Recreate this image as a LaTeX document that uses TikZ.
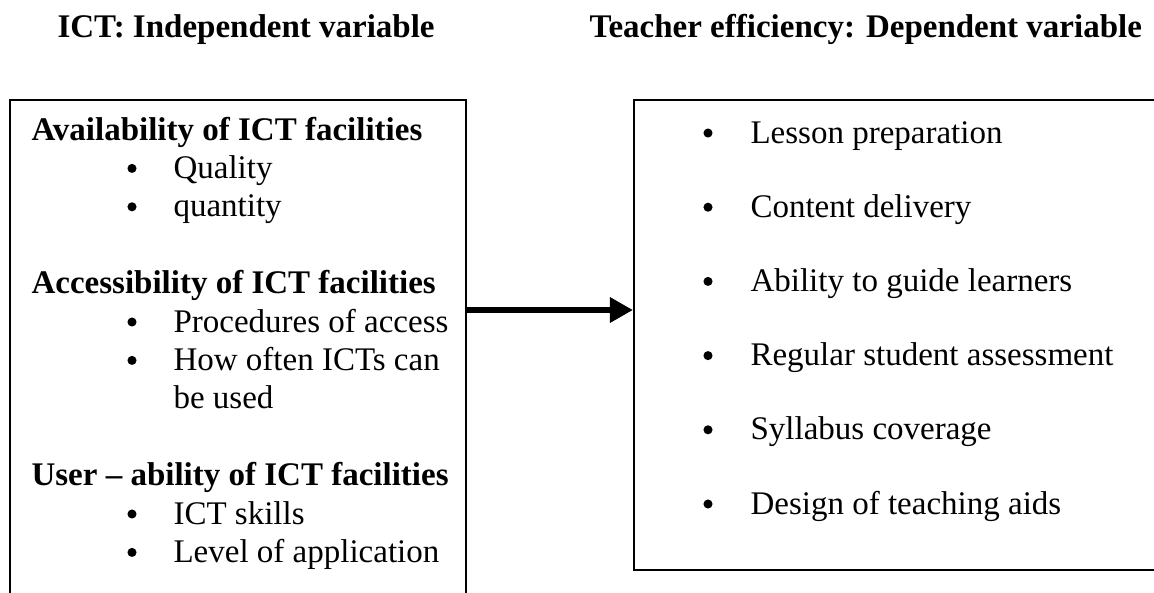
\documentclass[tikz,border=0pt]{standalone}
\usepackage{fontspec}
\setmainfont{Liberation Serif}
\usetikzlibrary{arrows.meta,positioning}
\tikzset{
    head/.style={anchor=base west, inner sep=0pt, font=\fontsize{12}{14}\selectfont\bfseries},
    item/.style={anchor=base west, inner sep=0pt, font=\fontsize{12}{14}\selectfont},
    dot/.style={circle, fill=black, inner sep=0pt, minimum size=3.3pt},
    box/.style={draw, line width=0.8pt, anchor=north west, inner sep=0pt},
    flow/.style={line width=2.5pt, -{Triangle[length=8.4pt, width=8.8pt]}}
}

\begin{document}
\begin{tikzpicture}[x=0.3636pt, y=-0.3636pt]
        \useasboundingbox (0,0) rectangle (1154,592);

        % Column titles
        \node[head] (ivtitle) at (57,37) {ICT: Independent variable};
        \node[head] (dvtitle) at (589,37) {Teacher efficiency: Dependent variable};

        % The two boxes (left one runs off the bottom, right one off the side)
        \node[box, minimum width=456*0.3636pt, minimum height=520*0.3636pt] (ivbox) at (9,99) {};
        \node[box, minimum width=540*0.3636pt, minimum height=470*0.3636pt] (dvbox) at (633,99) {};

        % Independent variable: group headings
        \node[head] (avail) at (31,140) {Availability of ICT facilities};
        \node[head] (access) at (31,293.6) {Accessibility of ICT facilities};
        \node[head] (usable) at (31,485.6) {User -- ability of ICT facilities};

        % Independent variable: bullet points
        \foreach \y/\txt [count=\i] in {178.4/Quality, 216.8/quantity, 332/Procedures of access,
                370.4/How often ICTs can, 524/ICT skills, 562.4/Level of application} {
            \node[dot] (ivdot\i) at (132,\y-10) {};
            \node[item] (ivitem\i) at (173,\y) {\txt};
        }
        \node[item] (ivwrap) at (173,408.8) {be used};

        % Dependent variable: bullet points
        \foreach \y/\txt [count=\i] in {143/Lesson preparation, 217.2/Content delivery,
                291.4/Ability to guide learners, 365.6/Regular student assessment,
                439.8/Syllabus coverage, 514/Design of teaching aids} {
            \node[dot] (dvdot\i) at (708,\y-10) {};
            \node[item] (dvitem\i) at (750,\y) {\txt};
        }

        % Link between the variables
        \coordinate (level) at (0,310);
        \draw[flow] (ivbox.east |- level) -- (dvbox.west |- level);
    \end{tikzpicture}
\end{document}
